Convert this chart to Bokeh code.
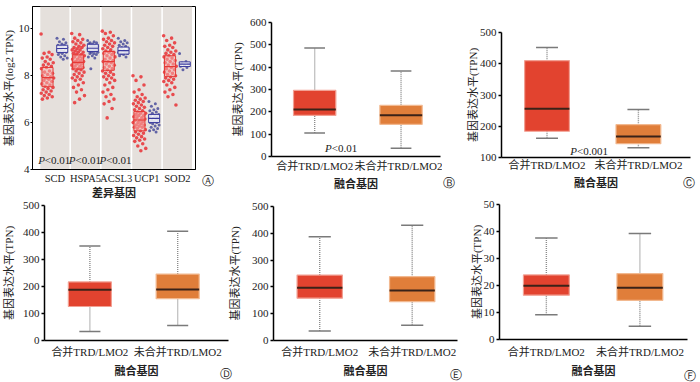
from bokeh.plotting import figure
from bokeh.models import FixedTicker
from bokeh.core.properties import value
from bokeh.embed import file_html
from bokeh.resources import INLINE

SERIF = "Liberation Serif, Noto Sans CJK SC"
RED = "#e2432f"
ORANGE = "#e07e3a"

# ---------------- Panel A data ----------------
genes = ["SCD", "HSPA5", "ACSL3", "UCP1", "SOD2"]
a_red_q1 = [7.53, 8.29, 8.23, 5.65, 7.96]
a_red_med = [7.92, 8.57, 8.60, 6.11, 8.39]
a_red_q3 = [8.35, 8.89, 9.03, 6.47, 8.85]
a_blue_q1 = [8.99, 9.03, 8.92, 6.00, 8.39]
a_blue_med = [9.16, 9.17, 9.07, 6.18, 8.49]
a_blue_q3 = [9.30, 9.34, 9.22, 6.35, 8.59]
a_pvals = ["<0.01", "<0.01", "<0.01"]

scd_red = [9.78, 9.0, 8.95, 8.9, 8.8, 8.75, 8.7, 8.6, 8.55, 8.5, 8.45, 8.4, 8.35, 8.3, 8.2, 8.15, 8.1, 8.05,
           8.0, 7.95, 7.9, 7.9, 7.85, 7.8, 7.75, 7.7, 7.65, 7.6, 7.55, 7.5, 7.45, 7.4, 7.35, 7.3, 7.25, 7.2,
           7.15, 7.1, 7.05, 7.0]
scd_blue = [9.6, 9.55, 9.45, 9.4, 9.35, 9.3, 9.3, 9.25, 9.2, 9.2, 9.15, 9.15, 9.1, 9.1, 9.05, 9.0, 9.0,
            8.95, 8.9, 8.85, 8.8, 8.75, 8.7]
hspa5_red = [9.8, 9.75, 9.6, 9.55, 9.5, 9.45, 9.4, 9.35, 9.3, 9.25, 9.2, 9.2, 9.15, 9.1, 9.1, 9.05, 9.0,
             9.0, 8.95, 8.9, 8.9, 8.85, 8.8, 8.8, 8.75, 8.7, 8.7, 8.65, 8.6, 8.6, 8.55, 8.55, 8.5, 8.5,
             8.45, 8.4, 8.4, 8.35, 8.3, 8.3, 8.25, 8.2, 8.15, 8.1, 8.05, 8.0, 7.95, 7.9, 7.85, 7.8, 7.7,
             7.6, 7.5, 7.4, 7.3, 7.15, 7.0, 6.85]
hspa5_blue = [9.5, 9.45, 9.4, 9.4, 9.35, 9.35, 9.3, 9.3, 9.25, 9.25, 9.2, 9.2, 9.2, 9.15, 9.15, 9.1, 9.1,
              9.1, 9.05, 9.05, 9.0, 9.0, 8.95, 8.95, 8.9, 8.85, 8.8, 8.75, 8.3]
acsl3_red = [9.9, 9.85, 9.8, 9.7, 9.6, 9.55, 9.5, 9.45, 9.4, 9.35, 9.3, 9.25, 9.2, 9.15, 9.1, 9.05, 9.0,
             9.0, 8.95, 8.9, 8.85, 8.8, 8.75, 8.7, 8.65, 8.6, 8.6, 8.55, 8.5, 8.45, 8.4, 8.35, 8.3, 8.25,
             8.2, 8.15, 8.1, 8.05, 8.0, 7.95, 7.9, 7.85, 7.8, 7.7, 7.6, 7.5, 7.4, 7.3, 7.2, 7.1, 7.0, 6.9,
             6.8, 6.6, 6.2]
acsl3_blue = [9.6, 9.5, 9.45, 9.4, 9.35, 9.3, 9.25, 9.2, 9.15, 9.1, 9.1, 9.05, 9.05, 9.0, 9.0, 8.95, 8.95,
              8.9, 8.85, 8.8]
ucp1_red = [8.0, 7.95, 7.8, 7.6, 7.4, 7.3, 7.2, 7.1, 7.05, 7.0, 6.95, 6.9, 6.85, 6.8, 6.75, 6.7, 6.65, 6.6,
            6.55, 6.5, 6.45, 6.4, 6.4, 6.35, 6.3, 6.3, 6.25, 6.2, 6.2, 6.15, 6.1, 6.1, 6.05, 6.0, 6.0, 5.95,
            5.9, 5.9, 5.85, 5.8, 5.8, 5.75, 5.7, 5.65, 5.6, 5.55, 5.5, 5.45, 5.4, 5.35, 5.3, 5.25, 5.2, 5.1,
            5.0, 4.9, 4.8]
ucp1_blue = [6.9, 6.8, 6.7, 6.6, 6.55, 6.5, 6.45, 6.4, 6.35, 6.3, 6.3, 6.25, 6.2, 6.2, 6.15, 6.1, 6.1, 6.05,
             6.0, 6.0, 5.95, 5.9, 5.85, 5.8, 5.75, 5.7, 5.65, 5.6]
sod2_red = [9.7, 9.6, 9.5, 9.4, 9.3, 9.25, 9.2, 9.1, 9.05, 9.0, 8.95, 8.9, 8.85, 8.8, 8.75, 8.7, 8.65, 8.6,
            8.55, 8.5, 8.45, 8.4, 8.35, 8.3, 8.25, 8.2, 8.15, 8.1, 8.05, 8.0, 7.95, 7.9, 7.85, 7.8, 7.75,
            7.7, 7.6, 7.5, 7.4, 7.3, 7.2, 7.1, 6.75]
sod2_blue = [8.95, 8.6, 8.55, 8.5, 8.45, 8.4, 8.35, 8.25]
a_red_points = [scd_red, hspa5_red, acsl3_red, ucp1_red, sod2_red]
a_blue_points = [scd_blue, hspa5_blue, acsl3_blue, ucp1_blue, sod2_blue]

# ---------------- Panels B-F data ----------------
groups = ["合并TRD/LMO2", "未合并TRD/LMO2"]
b_low, b_q1, b_med, b_q3, b_high = [105, 37], [184, 144], [211, 185], [296, 229], [486, 383]
c_low, c_q1, c_med, c_q3, c_high = [162, 131], [184, 144], [256, 167], [410, 205], [452, 254]
d_low, d_q1, d_med, d_q3, d_high = [33, 56], [126, 155], [188, 189], [217, 246], [350, 405]
e_low, e_q1, e_med, e_q3, e_high = [35, 57], [158, 145], [197, 187], [244, 238], [387, 430]
f_low, f_q1, f_med, f_q3, f_high = [9.2, 4.9], [16.4, 14.5], [19.95, 19.2], [23.9, 24.4], [37.6, 39.3]
b_ticks = [0, 100, 200, 300, 400, 500, 600]
c_ticks = [100, 200, 300, 400, 500]
d_ticks = [0, 100, 200, 300, 400, 500]
f_ticks = [0, 10, 20, 30, 40, 50]


def place(left, top):
    return {"position": "absolute", "left": f"{left}px", "top": f"{top}px"}


def make_fig(frame_left, frame_top, fw, fh, bl, bt, xr, yr):
    p = figure(frame_width=fw, frame_height=fh, x_range=xr, y_range=yr, output_backend="svg",
               toolbar_location=None, min_border_left=bl, min_border_right=2, min_border_top=bt,
               min_border_bottom=4, styles=place(frame_left - bl, frame_top - bt))
    p.xgrid.visible = False
    p.ygrid.visible = False
    p.border_fill_alpha = 0
    p.background_fill_alpha = 0
    return p


def to_data(p_geom, px, py):
    fl, ft, fw, fh, xr, yr = p_geom
    x = xr[0] + (px - fl) / fw * (xr[1] - xr[0])
    y = yr[1] - (py - ft) / fh * (yr[1] - yr[0])
    return x, y


def letter_fig(letter, cx, cy):
    s = 18
    p = figure(width=s, height=s, x_range=(0, 1), y_range=(0, 1), output_backend="svg", toolbar_location=None,
               x_axis_type=None, y_axis_type=None, min_border=0, styles=place(cx - s / 2, cy - s / 2))
    p.grid.visible = False
    p.outline_line_color = None
    p.background_fill_alpha = 0
    p.border_fill_alpha = 0
    p.text(x=[0.5], y=[0.5], text=[letter], text_align="center", text_baseline="middle",
           text_font=value("DejaVu Sans"), text_font_size="12px", text_color="#222222")
    return p


def style_y(p, ticks, label, standoff):
    p.yaxis.ticker = FixedTicker(ticks=ticks)
    p.yaxis.axis_label = label
    p.yaxis.axis_label_text_font = SERIF
    p.yaxis.axis_label_text_font_size = "11px"
    p.yaxis.axis_label_text_font_style = "normal"
    p.yaxis.axis_label_text_color = "#222222"
    p.yaxis.axis_label_standoff = standoff
    p.yaxis.major_label_text_font = SERIF
    p.yaxis.major_label_text_font_size = "11px"
    p.yaxis.major_label_text_color = "#222222"
    p.yaxis.major_label_standoff = 2
    p.yaxis.minor_tick_line_color = None


def style_x(p, ticks, overrides, label, tick_standoff, label_standoff, size="11px"):
    p.xaxis.ticker = FixedTicker(ticks=ticks)
    p.xaxis.major_label_overrides = overrides
    p.xaxis.major_label_text_font = SERIF
    p.xaxis.major_label_text_font_size = size
    p.xaxis.major_label_text_color = "#222222"
    p.xaxis.major_label_standoff = tick_standoff
    p.xaxis.major_tick_line_color = None
    p.xaxis.major_tick_out = 0
    p.xaxis.major_tick_in = 0
    p.xaxis.minor_tick_line_color = None
    p.xaxis.axis_label = label
    p.xaxis.axis_label_text_font = SERIF
    p.xaxis.axis_label_text_font_size = "11px"
    p.xaxis.axis_label_text_font_style = "bold"
    p.xaxis.axis_label_text_color = "#222222"
    p.xaxis.axis_label_standoff = label_standoff


# ---------------- Panel A ----------------
A_XR, A_YR = (-0.23, 5.09), (4, 10.95)
pA = make_fig(32, 6, 163, 163, 40, 6, A_XR, A_YR)
pA.outline_line_color = "black"
pA.outline_line_width = 1
centers = [i + 0.5 for i in range(len(genes))]
pA.quad(left=[c - 0.475 for c in centers], right=[c + 0.475 for c in centers],
        bottom=A_YR[0], top=A_YR[1], fill_color="#e5e0dc", line_color=None)
for i, c in enumerate(centers):
    ys = a_red_points[i]
    xs = [c - 0.24 + ((k * 0.618034) % 1 - 0.5) * 0.42 for k in range(len(ys))]
    pA.scatter(xs, ys, size=3.6, fill_color="#e8262b", line_color=None, fill_alpha=0.8)
    ys = a_blue_points[i]
    xs = [c + 0.24 + ((k * 0.618034) % 1 - 0.5) * 0.34 for k in range(len(ys))]
    pA.scatter(xs, ys, size=3.0, fill_color="#2b2f8f", line_color=None, fill_alpha=0.7)
rx = [c - 0.24 for c in centers]
bx = [c + 0.24 for c in centers]
pA.vbar(x=rx, width=0.36, bottom=a_red_q1, top=a_red_q3, fill_color="#f7b4b0", fill_alpha=0.5,
        line_color="#e53935", line_width=1)
pA.segment(x0=[x - 0.18 for x in rx], x1=[x + 0.18 for x in rx], y0=a_red_med, y1=a_red_med,
           line_color="#e53935", line_width=1.2)
pA.vbar(x=bx, width=0.36, bottom=a_blue_q1, top=a_blue_q3, fill_color="white", fill_alpha=0.8,
        line_color="#3a3a9e", line_width=1)
pA.segment(x0=[x - 0.18 for x in bx], x1=[x + 0.18 for x in bx], y0=a_blue_med, y1=a_blue_med,
           line_color="#3a3a9e", line_width=1.2)
pA.text(x=centers[:3], y=[4.4] * 3, text=["P"] * 3, x_offset=-10, text_align="right", text_baseline="middle",
        text_font=value("Liberation Serif"), text_font_style="italic", text_font_size="11px", text_color="#222222")
pA.text(x=centers[:3], y=[4.4] * 3, text=a_pvals, x_offset=-10, text_align="left", text_baseline="middle",
        text_font=value("Liberation Serif"), text_font_size="11px", text_color="#222222")
style_y(pA, [4, 6, 8, 10], "基因表达水平(log2 TPN)", 1)
pA.yaxis.major_tick_out = 2
pA.yaxis.major_tick_in = 0
pA.yaxis.major_label_standoff = 1
style_x(pA, centers, {c: g for c, g in zip(centers, genes)}, "差异基因", 3, 0, size="10.5px")


# ---------------- Box panels ----------------
def box_panel(fl, ft, fw, fh, bl, xr, yr, ticks, low, q1, med, q3, high,
              y_standoff, xt_standoff, xl_standoff, ptext=None, ptext_px=None):
    p = make_fig(fl, ft, fw, fh, bl, 8, xr, yr)
    p.outline_line_color = None
    xs = list(range(len(groups)))
    p.segment(x0=xs, x1=xs, y0=q3, y1=high, line_color="#8c8c8c", line_width=1.4, line_dash="1 1")
    p.segment(x0=xs, x1=xs, y0=low, y1=q1, line_color="#8c8c8c", line_width=1.4, line_dash="1 1")
    p.segment(x0=[x - 0.12 for x in xs], x1=[x + 0.12 for x in xs], y0=high, y1=high,
              line_color="#7a7a7a", line_width=1.5)
    p.segment(x0=[x - 0.12 for x in xs], x1=[x + 0.12 for x in xs], y0=low, y1=low,
              line_color="#7a7a7a", line_width=1.5)
    p.vbar(x=xs, width=0.49, bottom=q1, top=q3, fill_color=[RED, ORANGE],
           line_color=["#f2a093", "#f2b990"], line_width=1.2)
    p.segment(x0=[x - 0.245 for x in xs], x1=[x + 0.245 for x in xs], y0=med, y1=med,
              line_color="#3a2218", line_width=2)
    style_y(p, ticks, "基因表达水平(TPN)", y_standoff)
    p.yaxis.axis_line_width = 1.5
    p.yaxis.major_tick_line_width = 1.5
    p.yaxis.major_tick_out = 3
    p.yaxis.major_tick_in = 0
    p.xaxis.axis_line_width = 1.5
    style_x(p, xs, {x: g for x, g in zip(xs, groups)}, "融合基因", xt_standoff, xl_standoff)
    if ptext is not None:
        x, y = to_data((fl, ft, fw, fh, xr, yr), *ptext_px)
        off = -(len(ptext) * 5.5 + 6) / 2 + 6
        p.text(x=[x], y=[y], text=["P"], x_offset=off, text_align="right",
               text_baseline="middle", text_font=value("Liberation Serif"), text_font_style="italic",
               text_font_size="11px", text_color="#222222")
        p.text(x=[x], y=[y], text=[ptext], x_offset=off, text_align="left",
               text_baseline="middle", text_font=value("Liberation Serif"), text_font_size="11px",
               text_color="#222222")
    return p


pB = box_panel(271, 22, 169, 134, 60, (-0.5, 1.457), (0, 600), b_ticks,
               b_low, b_q1, b_med, b_q3, b_high, 3, 3, 3, "<0.01", (342, 147))
pC = box_panel(501, 32, 189, 125, 45, (-0.498, 1.57), (100, 500), c_ticks,
               c_low, c_q1, c_med, c_q3, c_high, -2, 1, 3, "<0.001", (590, 150.7))
pD = box_panel(39, 205, 184, 135, 40, (-0.517, 1.579), (0, 500), d_ticks,
               d_low, d_q1, d_med, d_q3, d_high, 5, 5, 4)
pE = box_panel(269, 206, 184, 134, 44, (-0.5, 1.49), (0, 500), d_ticks,
               e_low, e_q1, e_med, e_q3, e_high, 8, 5, 4)
pF = box_panel(499, 204, 188, 135, 40, (-0.501, 1.509), (0, 50), f_ticks,
               f_low, f_q1, f_med, f_q3, f_high, -2, 6, 4)

letters = [letter_fig("Ⓐ", 207, 180), letter_fig("Ⓑ", 448, 182), letter_fig("Ⓒ", 688, 182),
           letter_fig("Ⓓ", 225, 373), letter_fig("Ⓔ", 455, 374), letter_fig("Ⓕ", 689, 375)]

roots = [pA, pB, pC, pD, pE, pF] + letters
open("out.html", "w").write(file_html(roots, INLINE))
